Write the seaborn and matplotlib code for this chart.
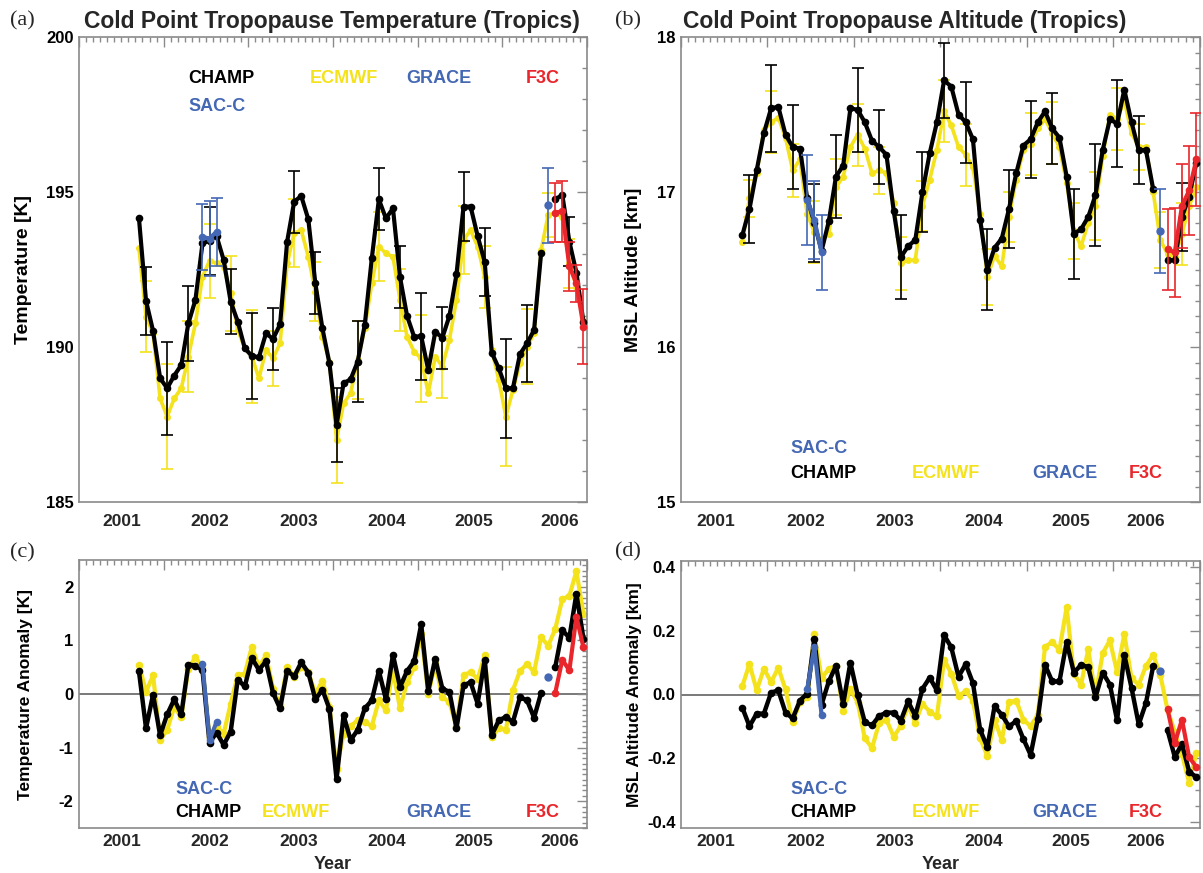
import numpy as np
import pandas as pd
import matplotlib
matplotlib.use("Agg")
import matplotlib.pyplot as plt
import seaborn as sns
from matplotlib.ticker import MultipleLocator, FixedLocator, NullFormatter
from matplotlib.transforms import blended_transform_factory

sns.set_theme(style="white")
plt.rcParams["font.family"] = ["Liberation Sans", "DejaVu Sans"]
plt.rcParams["axes.unicode_minus"] = False

nan = np.nan
# ---------------- data (monthly, starting Sept 2001) ----------------
start_year, start_month = 2001, 9
n_months = 64
# Error bars every third month
err_months = list(range(1, 62, 3))
sacc_months = [9, 10, 11]
grace_months = [58]
f3c_months = [59, 60, 61, 62, 63]

champ_T = [194.15, 191.49, 190.52, 188.99, 188.67, 189.08, 189.42, 190.76, 191.52, 193.34,
           193.43, 193.58, 192.81, 191.46, 190.82, 189.96, 189.71, 189.67, 190.44, 190.26,
           190.73, 193.40, 194.69, 194.87, 194.12, 192.05, 190.60, 189.47, 187.48, 188.83,
           188.96, 189.53, 190.71, 192.86, 194.76, 194.15, 194.47, 192.25, 191.00, 190.33,
           190.35, 189.26, 190.49, 190.30, 191.00, 192.34, 194.53, 194.53, 193.58, 192.75,
           189.82, 189.31, 188.67, 188.67, 189.77, 190.12, 190.55, 193.04, nan, 194.76,
           194.91, 193.40, 192.40, 190.80]
ecmwf_T = [193.18, 190.98, 190.44, 188.34, 187.75, 188.34, 188.67, 189.69, 190.76, 192.27,
           192.78, 192.70, 192.59, 191.73, 190.55, 189.96, 189.69, 188.99, 189.90, 189.63,
           190.12, 192.70, 193.67, 193.77, 192.91, 191.78, 190.33, 189.53, 187.00, 188.18,
           188.51, 189.58, 190.60, 192.05, 193.24, 193.02, 192.91, 191.52, 190.33, 189.85,
           189.63, 188.51, 189.69, 189.37, 190.23, 191.52, 193.45, 193.77, 193.24, 192.27,
           189.90, 188.94, 187.75, 188.61, 189.47, 190.01, 190.44, 193.13, 194.26, 194.31,
           194.20, 192.70, 191.95, 190.87]
champ_T_err = [1.1, 1.5, 1.2, 1.1, 1.05, 1.4, 1.0, 1.0, 1.0, 1.2, 1.3, 1.0, 1.0, 1.4, 1.0,
               1.1, 1.1, 1.6, 1.25, nan, 0.8]
ecmwf_T_err = [1.15, 1.7, 1.15, 1.2, 1.2, 1.5, 0.9, 1.1, 0.95, 1.4, 1.25, 1.1, 1.0, 1.4, 1.0,
               1.1, 1.0, 1.6, 1.2, 0.7, 0.8]
sacc_T = [193.55, 193.50, 193.72]
sacc_T_err = [1.05, 1.2, 1.1]
grace_T = [194.57]
grace_T_err = [1.2]
f3c_T = [194.33, 194.38, 192.60, 192.05, 190.66]
f3c_T_err = [0.95, 0.98, 0.8, 0.6, 1.2]

champ_Z = [16.72, 16.89, 17.14, 17.38, 17.54, 17.55, 17.37, 17.29, 17.28, 16.96,
           16.80, 16.62, 16.81, 17.10, 17.17, 17.54, 17.53, 17.45, 17.33, 17.29,
           17.24, 16.88, 16.58, 16.65, 16.69, 17.00, 17.25, 17.45, 17.72, 17.68,
           17.50, 17.45, 17.34, 16.82, 16.50, 16.64, 16.70, 16.89, 17.12, 17.30,
           17.34, 17.45, 17.52, 17.41, 17.35, 17.10, 16.73, 16.76, 16.84, 16.98,
           17.27, 17.47, 17.44, 17.66, 17.45, 17.27, 17.27, 17.02, nan, 16.56,
           16.56, 16.84, 16.97, 17.19]
ecmwf_Z = [16.68, 16.96, 17.12, 17.40, 17.45, 17.48, 17.35, 17.14, 17.21, 16.86,
           16.74, 16.69, 16.73, 17.03, 17.10, 17.29, 17.37, 17.28, 17.12, 17.14,
           17.12, 16.93, 16.54, 16.56, 16.56, 16.91, 17.08, 17.27, 17.52, 17.43,
           17.29, 17.24, 17.16, 16.86, 16.45, 16.59, 16.52, 16.84, 17.08, 17.27,
           17.31, 17.41, 17.47, 17.38, 17.29, 17.06, 16.75, 16.65, 16.80, 16.91,
           17.23, 17.50, 17.47, 17.59, 17.38, 17.29, 17.29, 17.00, 16.69, 16.60,
           16.58, 16.73, 16.91, 17.03]
champ_Z_err = [0.22, 0.28, 0.27, 0.25, 0.27, 0.27, 0.24, 0.27, 0.26, 0.24, 0.26, 0.26, 0.25,
               0.25, 0.23, 0.29, 0.33, 0.28, 0.22, nan, 0.22]
ecmwf_Z_err = [0.12, 0.20, 0.17, 0.20, 0.18, 0.20, 0.15, 0.17, 0.16, 0.20, 0.20, 0.18, 0.16,
               0.20, 0.20, 0.18, 0.22, 0.20, 0.15, 0.18, 0.20]
sacc_Z = [16.95, 16.82, 16.61]
sacc_Z_err = [0.29, 0.25, 0.24]
grace_Z = [16.75]
grace_Z_err = [0.27]
f3c_Z = [16.63, 16.61, 16.91, 17.01, 17.21]
f3c_Z_err = [0.26, 0.29, 0.27, 0.29, 0.30]

champ_dT = [0.42, -0.64, -0.01, -0.77, -0.38, -0.10, -0.38, 0.55, 0.53, 0.45,
            -0.91, -0.72, -0.95, -0.70, 0.27, 0.14, 0.67, 0.45, 0.61, 0.02,
            -0.27, 0.43, 0.33, 0.59, 0.40, -0.10, 0.08, -0.28, -1.59, -0.40,
            -0.86, -0.67, -0.27, -0.12, 0.43, -0.10, 0.73, 0.13, 0.43, 0.61,
            1.30, 0.06, 0.66, 0.10, 0.04, -0.64, 0.16, 0.22, -0.18, 0.64,
            -0.77, -0.49, -0.43, -0.52, -0.06, -0.12, -0.44, 0.02, nan, 0.50,
            1.19, 1.05, 1.87, 1.03]
ecmwf_dT = [0.55, 0.04, 0.35, -0.86, -0.67, -0.24, -0.43, 0.47, 0.69, 0.50,
            -0.80, -0.61, -0.74, -0.18, 0.35, 0.38, 0.88, 0.50, 0.72, 0.10,
            -0.21, 0.51, 0.32, 0.50, 0.41, 0.00, 0.25, -0.24, -1.39, -0.74,
            -0.60, -0.49, -0.52, -0.60, -0.12, -0.30, 0.44, -0.27, 0.22, 0.50,
            1.12, 0.00, 0.56, -0.06, -0.15, -0.61, 0.35, 0.41, 0.28, 0.72,
            -0.80, -0.64, -0.67, 0.07, 0.43, 0.56, 0.41, 1.06, 0.90, 1.21,
            1.77, 1.83, 2.29, 1.49]
sacc_dT = [0.56, -0.86, -0.52]
grace_dT = [0.32]
f3c_dT = [0.02, 0.64, 0.44, 1.44, 0.87]

champ_dZ = [-0.041, -0.100, -0.060, -0.060, 0.006, 0.013, -0.057, -0.075, -0.019, 0.003,
            0.175, -0.032, 0.041, 0.090, -0.029, 0.100, -0.001, -0.087, -0.097, -0.067,
            -0.057, -0.057, -0.082, -0.022, -0.067, 0.018, 0.053, 0.013, 0.187, 0.148,
            0.056, 0.096, 0.036, -0.111, -0.166, -0.037, -0.064, -0.100, -0.084, -0.140,
            -0.190, -0.077, 0.093, 0.041, 0.041, 0.165, 0.069, 0.093, 0.086, -0.009,
            0.069, 0.031, -0.081, 0.125, 0.021, -0.094, -0.027, 0.089, nan, -0.113,
            -0.196, -0.156, -0.243, -0.260]
ecmwf_dZ = [0.026, 0.096, 0.013, 0.081, 0.039, 0.084, 0.016, -0.087, -0.024, -0.009,
            0.190, 0.051, 0.081, 0.090, -0.051, 0.016, -0.024, -0.138, -0.168, -0.089,
            -0.079, -0.133, -0.099, -0.034, -0.089, -0.029, -0.054, -0.069, 0.110, 0.066,
            -0.004, 0.011, -0.019, -0.138, -0.193, -0.079, -0.143, -0.024, -0.019, -0.079,
            -0.100, -0.064, 0.150, 0.165, 0.140, 0.275, 0.066, 0.031, 0.142, -0.004,
            0.130, 0.170, 0.071, 0.190, 0.051, 0.031, 0.089, 0.125, 0.061, -0.049,
            -0.118, -0.188, -0.278, -0.183]
sacc_dZ = [0.016, 0.150, -0.064]
grace_dZ = [0.074]
f3c_dZ = [-0.046, -0.153, -0.079, -0.198, -0.228]

year_labels = ["2001", "2002", "2003", "2004", "2005", "2006"]
titles = ["Cold Point Tropopause Temperature (Tropics)", "Cold Point Tropopause Altitude (Tropics)"]
ylabels = ["Temperature [K]", "MSL Altitude [km]", "Temperature Anomaly [K]", "MSL Altitude Anomaly [km]"]
source_names = ["SAC-C", "CHAMP", "ECMWF", "GRACE", "F3C"]

# ---------------- styling / layout ----------------
YEL = "#F4E21C"
BLK = "#000000"
BLU = "#4468B4"
RED = "#E8262B"
SPINE = "#8a8a8a"

# year-label positions (layout, in decimal years)
lab_pos_left = [2001.50, 2002.55, 2003.60, 2004.64, 2005.66, 2006.68]
lab_pos_right = [2001.40, 2002.44, 2003.47, 2004.50, 2005.51, 2006.37]


def mtime(idx):
    idx = np.asarray(idx, dtype=float)
    return start_year + (start_month - 1 + idx + 0.5) / 12.0


W, H = 1203, 873
fig = plt.figure(figsize=(W / 100, H / 100), dpi=100)


def add_ax(l, t, r, b):
    return fig.add_axes([l / W, 1 - b / H, (r - l) / W, (b - t) / H])


axA = add_ax(79, 37, 587, 502)
axB = add_ax(681, 37, 1200, 502)
axC = add_ax(79, 560, 587, 828)
axD = add_ax(681, 561, 1200, 828)


def series(ax, idx, vals, color, lw, ms, z):
    df = pd.DataFrame({"t": mtime(idx), "v": np.asarray(vals, dtype=float)})
    grp = df["v"].isna().cumsum()
    ok = df["v"].notna()
    for _, g in df[ok].groupby(grp[ok]):
        sns.lineplot(data=g, x="t", y="v", ax=ax, color=color, linewidth=lw,
                     marker="o", markersize=ms, markeredgewidth=0, sort=False,
                     estimator=None, zorder=z)


def ebars(ax, idx, vals, errs, color, z, capsize=4.2):
    v = np.asarray(vals, dtype=float)
    e = np.asarray(errs, dtype=float)
    ok = ~np.isnan(v) & ~np.isnan(e)
    ax.errorbar(mtime(np.asarray(idx))[ok], v[ok], yerr=e[ok], fmt="none", ecolor=color,
                elinewidth=1.2, capsize=capsize, capthick=1.2, zorder=z)


def take(vals, idx):
    return [vals[i] for i in idx]


def style_axis(ax, ylim, ymaj, ymin, yfmt, lab_pos, lab_dy):
    ax.set_xlim(2001.0, 2007.0)
    ax.set_ylim(*ylim)
    ax.xaxis.set_major_locator(MultipleLocator(1))
    ax.xaxis.set_minor_locator(MultipleLocator(1 / 12))
    ax.xaxis.set_major_formatter(NullFormatter())
    ax.yaxis.set_major_locator(FixedLocator(ymaj))
    ax.yaxis.set_minor_locator(MultipleLocator(ymin))
    ax.set_yticklabels([yfmt.format(v) for v in ymaj], fontsize=12, fontweight="bold")
    ax.tick_params(axis="both", which="both", direction="in", top=True, right=True,
                   colors=SPINE, labelcolor="black", width=1.0)
    ax.tick_params(axis="both", which="major", length=7, pad=4)
    ax.tick_params(axis="both", which="minor", length=3.5)
    for s in ax.spines.values():
        s.set_color(SPINE)
        s.set_linewidth(1.2)
    ax.set_xlabel("")
    tr = blended_transform_factory(ax.transData, ax.transAxes)
    for p, lab in zip(lab_pos, year_labels):
        ax.text(p, lab_dy, lab, transform=tr, ha="center", va="center",
                fontsize=12.5, fontweight="bold")
    ax.grid(False)


def source_labels(ax, xs, ys):
    cols = {"SAC-C": BLU, "CHAMP": BLK, "ECMWF": YEL, "GRACE": BLU, "F3C": RED}
    for name in source_names:
        ax.text(xs[name], ys[name], name, transform=ax.transAxes, color=cols[name],
                fontsize=13, fontweight="bold", ha="left", va="center")


# ---------------- panels (a), (b) ----------------
for ax, ec, ch, ecE, chE, sc, scE, gr, grE, f3, f3E in [
    (axA, ecmwf_T, champ_T, ecmwf_T_err, champ_T_err, sacc_T, sacc_T_err, grace_T, grace_T_err, f3c_T, f3c_T_err),
    (axB, ecmwf_Z, champ_Z, ecmwf_Z_err, champ_Z_err, sacc_Z, sacc_Z_err, grace_Z, grace_Z_err, f3c_Z, f3c_Z_err),
]:
    months = list(range(n_months))
    ebars(ax, err_months, take(ec, err_months), ecE, YEL, 1)
    series(ax, months, ec, YEL, 2.6, 5, 2)
    ebars(ax, err_months, take(ch, err_months), chE, BLK, 3)
    series(ax, months, ch, BLK, 3.0, 5.5, 4)
    ebars(ax, sacc_months, sc, scE, BLU, 5)
    series(ax, sacc_months, sc, BLU, 3.0, 5.5, 6)
    ebars(ax, grace_months, gr, grE, BLU, 5)
    series(ax, grace_months, gr, BLU, 3.0, 6, 6)
    ebars(ax, f3c_months, f3, f3E, RED, 7)
    series(ax, f3c_months, f3, RED, 3.0, 5.5, 8)

# ---------------- panels (c), (d) ----------------
for ax, ec, ch, sc, gr, f3 in [
    (axC, ecmwf_dT, champ_dT, sacc_dT, grace_dT, f3c_dT),
    (axD, ecmwf_dZ, champ_dZ, sacc_dZ, grace_dZ, f3c_dZ),
]:
    months = list(range(n_months))
    ax.axhline(0, color="#6e6e6e", lw=1.3, zorder=0)
    series(ax, months, ec, YEL, 3.0, 5.5, 2)
    series(ax, months, ch, BLK, 3.2, 5.5, 4)
    series(ax, sacc_months, sc, BLU, 3.0, 5.5, 6)
    series(ax, grace_months, gr, BLU, 3.0, 6, 6)
    series(ax, f3c_months, f3, RED, 3.0, 5.5, 5)

style_axis(axA, (185, 200), [185, 190, 195, 200], 1, "{:.0f}", lab_pos_left, -0.043)
style_axis(axB, (15, 18), [15, 16, 17, 18], 0.1, "{:.0f}", lab_pos_right, -0.043)
style_axis(axC, (-2.5, 2.5), [-2, -1, 0, 1, 2], 0.1, "{:.0f}", lab_pos_left, -0.052)
style_axis(axD, (-0.42, 0.42), [-0.4, -0.2, 0.0, 0.2, 0.4], 0.05, "{:.1f}", lab_pos_right, -0.052)

# y labels
for ax, lab, fs, xc in [(axA, ylabels[0], 14, -0.092), (axB, ylabels[1], 14, -0.075),
                        (axC, ylabels[2], 12.5, -0.090), (axD, ylabels[3], 12.5, -0.075)]:
    ax.set_ylabel(lab, fontsize=fs, fontweight="bold", color="black")
    ax.yaxis.set_label_coords(xc, 0.5)

# titles
axA.text(0.010, 1.033, titles[0], transform=axA.transAxes, ha="left", va="center",
         fontsize=16.5, fontweight="bold")
axB.text(0.003, 1.033, titles[1], transform=axB.transAxes, ha="left", va="center",
         fontsize=16.5, fontweight="bold")

# "Year" labels
for ax in (axC, axD):
    ax.text(0.5, -0.138, "Year", transform=ax.transAxes, ha="center", va="center",
            fontsize=13, fontweight="bold")

# panel letters
for lab, x, y in [("(a)", 10, 21), ("(b)", 615, 21), ("(c)", 10, 553), ("(d)", 615, 552)]:
    fig.text(x / W, 1 - y / H, lab, family=["Liberation Serif", "DejaVu Serif"],
             fontsize=16, va="center", ha="left")

# source labels
source_labels(axA,
              {"CHAMP": 0.216, "SAC-C": 0.216, "ECMWF": 0.455, "GRACE": 0.645, "F3C": 0.88},
              {"CHAMP": 0.91, "SAC-C": 0.85, "ECMWF": 0.91, "GRACE": 0.91, "F3C": 0.91})
source_labels(axB,
              {"CHAMP": 0.21, "SAC-C": 0.21, "ECMWF": 0.445, "GRACE": 0.677, "F3C": 0.862},
              {"CHAMP": 0.061, "SAC-C": 0.116, "ECMWF": 0.061, "GRACE": 0.061, "F3C": 0.061})
source_labels(axC,
              {"CHAMP": 0.19, "SAC-C": 0.19, "ECMWF": 0.36, "GRACE": 0.645, "F3C": 0.88},
              {"CHAMP": 0.058, "SAC-C": 0.143, "ECMWF": 0.058, "GRACE": 0.058, "F3C": 0.058})
source_labels(axD,
              {"CHAMP": 0.21, "SAC-C": 0.21, "ECMWF": 0.445, "GRACE": 0.677, "F3C": 0.862},
              {"CHAMP": 0.058, "SAC-C": 0.143, "ECMWF": 0.058, "GRACE": 0.058, "F3C": 0.058})

fig.savefig("out.png", dpi=100, facecolor="white")
